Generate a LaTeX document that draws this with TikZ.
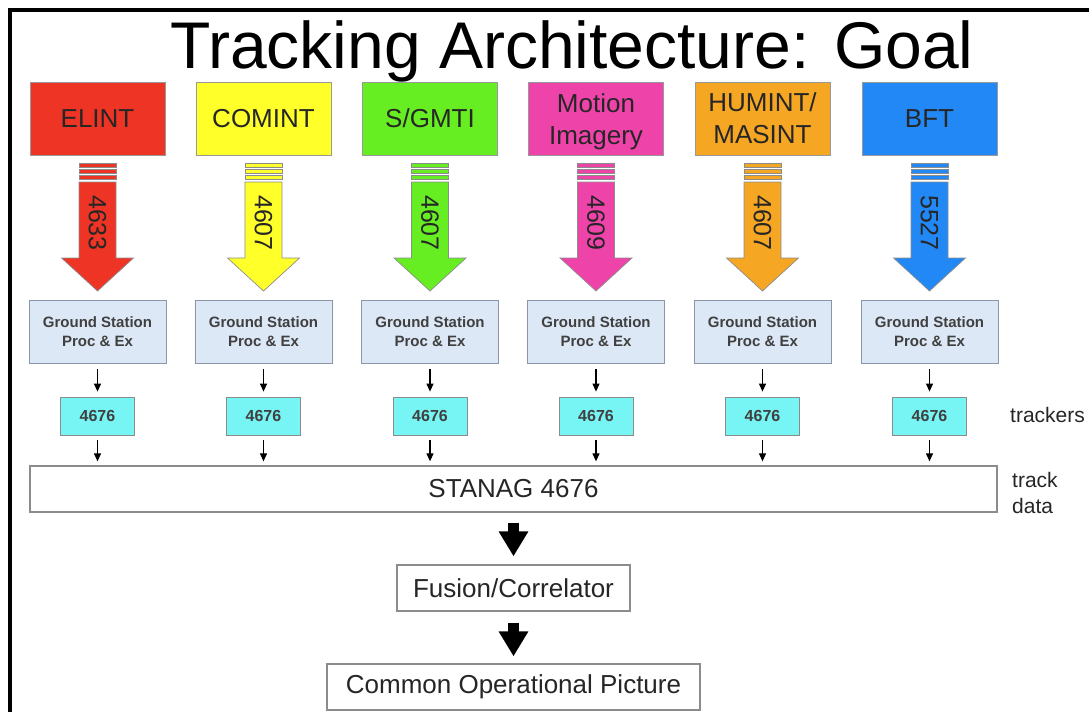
\documentclass[tikz,border=0pt]{standalone}
\usepackage{fontspec}
\setmainfont{Liberation Sans}
\usetikzlibrary{arrows.meta}
\definecolor{celint}{HTML}{EE3424}
\definecolor{ccomint}{HTML}{FFFF2A}
\definecolor{csgmti}{HTML}{66EE22}
\definecolor{cmotion}{HTML}{EE44AA}
\definecolor{chumint}{HTML}{F5A623}
\definecolor{cbft}{HTML}{2288F5}
\definecolor{gsfill}{HTML}{DDE8F6}
\definecolor{gsline}{HTML}{8A96A6}
\definecolor{trkfill}{HTML}{77F5F5}
\definecolor{boxline}{HTML}{8C8C8C}
\begin{document}
\begin{tikzpicture}[x=1pt,y=-1pt,
  srcbox/.style={draw=black!40, line width=0.8pt, minimum width=135pt, minimum height=73pt,
    align=center, text=black!85, font=\fontsize{26}{32}\selectfont, inner sep=0pt},
  gsbox/.style={draw=gsline, fill=gsfill, line width=1pt, minimum width=137pt, minimum height=63pt,
    align=center, text=black!75, font=\fontsize{15}{19}\selectfont\bfseries, inner sep=0pt},
  trkbox/.style={draw=black!45, fill=trkfill, line width=0.8pt, minimum width=74pt, minimum height=38pt,
    text=black!75, font=\fontsize{16}{19}\selectfont\bfseries, inner sep=0pt},
  plainbox/.style={draw=boxline, fill=white, line width=1.3pt, minimum height=46pt,
    text=black!85, font=\fontsize{26}{31}\selectfont, inner sep=0pt},
  smallarrow/.style={draw=black, line width=1.2pt, -{Triangle[width=7pt 0 0,length=8pt 0 0]},
    shorten <=5pt, shorten >=5pt},
  bigarrow/.style={draw=black, line width=11pt, -{Triangle[width=28pt 0 0,length=25pt 0 0]}},
  sidelabel/.style={anchor=west, align=left, text=black!85, font=\fontsize{21}{26}\selectfont, inner sep=0pt},
  arrowbody/.style={draw=black!45, line width=0.7pt}
]
\useasboundingbox (0,0) rectangle (1089,712);
\draw[line width=3.5pt] (10,712) -- (10,10) -- (1089,10);
\node[anchor=base, inner sep=0pt, font=\fontsize{66}{70}\selectfont] (title) at (572,68) {Tracking Architecture: Goal};

\node[plainbox, minimum width=967pt] (bar) at (513.5,489) {STANAG 4676};

\foreach \cx/\col/\lab/\num/\nm/\ty in {
   97.5/celint/ELINT/4633/e/118.5,
   263.5/ccomint/COMINT/4607/c/118.5,
   430/csgmti/S\slash GMTI/4607/s/118.5,
   596/cmotion/{Motion\\Imagery}/4609/m/121.5,
   762.5/chumint/{HUMINT/\\MASINT}/4607/h/118.5,
   929.5/cbft/BFT/5527/b/118.5} {
  \node[srcbox, fill=\col] (src\nm) at (\cx,118.5) {};
  \node[align=center, text=black!85, font=\fontsize{26}{32}\selectfont, inner sep=0pt] (lab\nm) at (\cx,\ty) {\lab};
  \draw[arrowbody, fill=\col] (\cx-18.5,163) rectangle (\cx+18.5,167);
  \draw[arrowbody, fill=\col] (\cx-18.5,169) rectangle (\cx+18.5,173);
  \draw[arrowbody, fill=\col] (\cx-18.5,175) rectangle (\cx+18.5,179);
  \draw[arrowbody, fill=\col] (\cx-18.5,182) -- (\cx+18.5,182) -- (\cx+18.5,258) -- (\cx+36,258)
     -- (\cx,291) -- (\cx-36,258) -- (\cx-18.5,258) -- cycle;
  \node[rotate=-90, inner sep=0pt, text=black!85, font=\fontsize{25}{28}\selectfont] (num\nm) at (\cx,223) {\num};
  \node[gsbox] (gs\nm) at (\cx,332) {Ground Station\\Proc \& Ex};
  \node[trkbox] (trk\nm) at (\cx,416) {4676};
  \draw[smallarrow] (gs\nm.south) -- (trk\nm.north);
  \draw[smallarrow, shorten >=4pt] (trk\nm.south) -- (trk\nm.south |- bar.north);
}

\node[sidelabel] (trackers) at (1010,415) {trackers};
\node[sidelabel] (trackdata) at (1012,493) {track\\data};

\node[plainbox, minimum width=233pt] (fus) at (513.5,588) {Fusion/Correlator};
\node[plainbox, minimum width=373pt] (cop) at (513.5,687) {Common Operational Picture};

\draw[bigarrow, shorten <=10pt, shorten >=8pt] (bar.south) -- (fus.north);
\draw[bigarrow, shorten <=11pt, shorten >=7pt] (fus.south) -- (cop.north);
\end{tikzpicture}
\end{document}
